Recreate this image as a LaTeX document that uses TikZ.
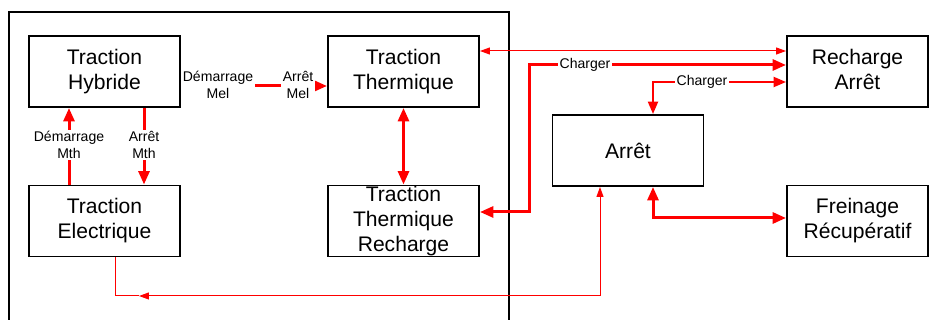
\documentclass[tikz,border=0pt]{standalone}
\usepackage{fontspec}
\setmainfont{Liberation Sans}
\usetikzlibrary{arrows.meta, calc}

\begin{document}
\begin{tikzpicture}[x=0.02cm, y=-0.02cm,
          every node/.style={rectangle, draw, line width=1.1pt, align=center, inner sep=0pt,
            minimum width=3.02cm, minimum height=1.42cm, font=\fontsize{12}{14.2}\selectfont},
          lbl/.style={draw=none, fill=white, minimum width=0pt, minimum height=0pt,
            inner sep=1pt, font=\fontsize{8}{9.6}\selectfont},
          fatline/.style={red, line width=0.06cm, >={Triangle[length=0.27cm, width=0.22cm]}},
          midline/.style={red, line width=0.045cm, >={Triangle[length=0.25cm, width=0.2cm]}},
          thinline/.style={red, line width=0.02cm, >={Triangle[length=0.2cm, width=0.14cm]}}]
          \clip (0,0) rectangle (930,320);
          \draw[line width=1.1pt] (9,12) rectangle (509,335);

          \node (th) at (104.5,71.5) {Traction\\Hybride};
          \node (tt) at (403.5,71.5) {Traction\\Thermique};
          \node (te) at (104.5,221) {Traction\\Electrique};
          \node (ttr) at (403.5,221) {};
          \node[draw=none, minimum width=0pt, minimum height=0pt] (ttrtxt) at (ttr) {Traction\\Thermique\\Recharge};
          \node (ar) at (628,150.5) {Arrêt};
          \node[minimum width=2.82cm] (ra) at (857.5,71.5) {};
          \node[draw=none, minimum width=0pt, minimum height=0pt] (ratxt) at (857.5,69.5) {Recharge\\Arrêt};
          \node[minimum width=2.82cm] (fr) at (857.5,221) {Freinage\\Récupératif};
          \coordinate (chg) at (529,140);
          \coordinate (ret) at (139,296);

          \draw[fatline, ->] ($(th.east)+(0,14.5)$) -- ($(tt.west)+(0,14.5)$);
          \draw[fatline, ->] ($(te.north)+(-35.5,0)$) -- ($(th.south)+(-35.5,0)$);
          \draw[fatline, ->] ($(th.south)+(39.5,0)$) -- ($(te.north)+(39.5,0)$);
          \draw[fatline, <->] (tt) -- (ttr);
          \draw[thinline, <->] ($(tt.east)+(0,-20.5)$) -- ($(ra.west)+(0,-20.5)$);
          \draw[fatline, <->] ($(ra.west)+(0,-6.5)$) -| (chg) |- ($(ttr.east)+(0,-9)$);
          \draw[midline, <->] ($(ar.north)+(25,0)$) |- ($(ra.west)+(0,10.5)$);
          \draw[thinline] ($(te.south)+(10.5,0)$) |- (ret);
          \draw[thinline, <->] (ret) -| ($(ar.south)+(-28,0)$);
          \draw[fatline, <->] ($(ar.south)+(25,0)$) |- ($(fr.west)+(0,-3)$);

          \node[lbl] (dmel) at (218,85) {Démarrage\\Mel};
          \node[lbl] (amel) at (298,85) {Arrêt\\Mel};
          \node[lbl] (dmth) at (69,145) {Démarrage\\Mth};
          \node[lbl] (amth) at (144,145) {Arrêt\\Mth};
          \node[lbl] (chg1) at (585,65) {Charger};
          \node[lbl] (chg2) at (702,82) {Charger};
        \end{tikzpicture}
\end{document}
